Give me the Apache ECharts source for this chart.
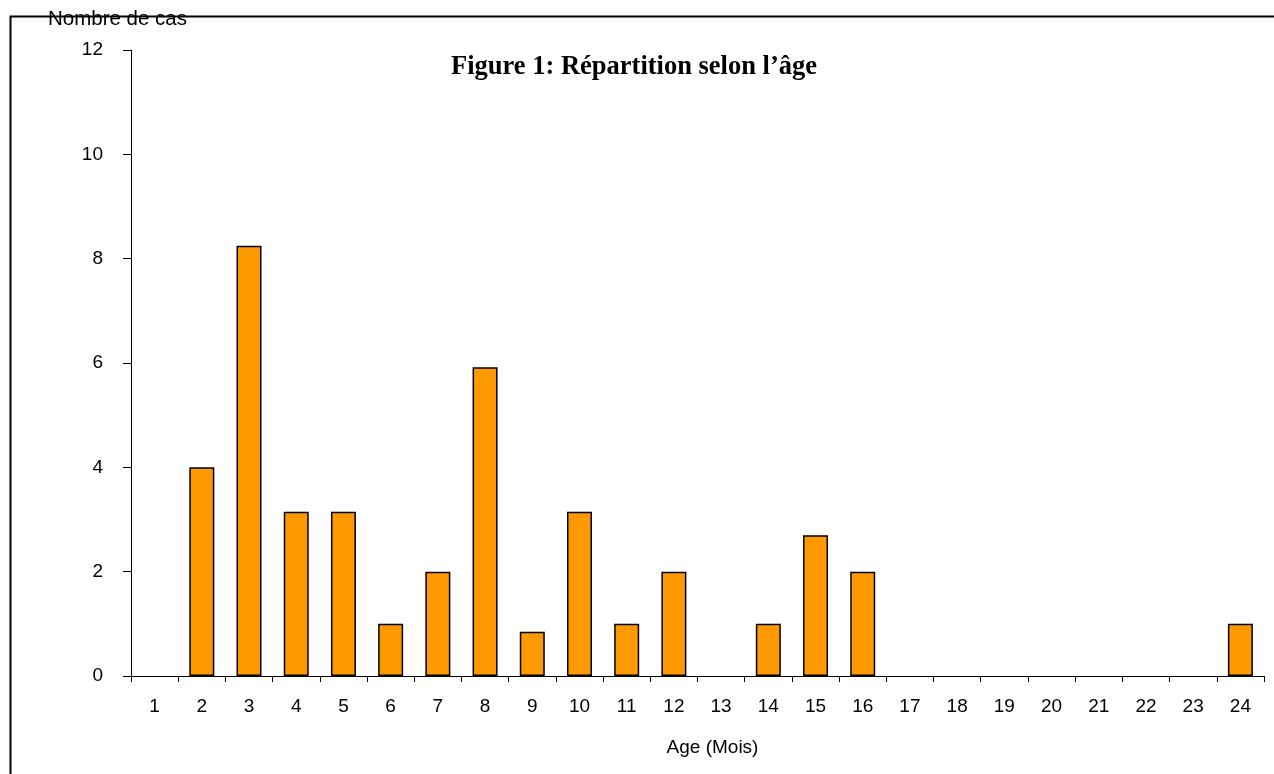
<!DOCTYPE html>
<html>
<head>
<meta charset="utf-8">
<script src="https://cdn.jsdelivr.net/npm/echarts@6/dist/echarts.min.js"></script>
<style>html,body{margin:0;padding:0;background:#fff}#c{width:1274px;height:774px}</style>
</head>
<body>
<div id="c"></div>
<script>
const categories = ['1','2','3','4','5','6','7','8','9','10','11','12','13','14','15','16','17','18','19','20','21','22','23','24'];
const cases = [0, 4, 8.25, 3.15, 3.15, 1, 2, 5.92, 0.85, 3.15, 1, 2, 0, 1, 2.7, 2, 0, 0, 0, 0, 0, 0, 0, 1];
const yTicks = {min: 0, max: 12, interval: 2};
const titleText = 'Figure 1: Répartition selon l\u2019âge';
const yName = 'Nombre de cas';
const xName = 'Age (Mois)';

const chart = echarts.init(document.getElementById('c'), null, {renderer: 'canvas'});
const sans = 'Liberation Sans, Arial, sans-serif';
const barData = cases.map(v => v === 0 ? {value: v, itemStyle: {borderWidth: 0}} : v);
chart.setOption({
  animation: false,
  backgroundColor: '#fff',
  title: {
    text: titleText,
    left: 446, top: 49,
    textStyle: {fontFamily: 'Liberation Serif, Times New Roman, serif', fontWeight: 'bold', fontSize: 26.5, color: '#000'}
  },
  graphic: [
    {type: 'rect', left: 8, top: 14, z: 0, silent: true,
     shape: {width: 1400, height: 900},
     style: {fill: 'none', stroke: '#000', lineWidth: 2}},
    {type: 'text', left: 48, top: 9, z: 10,
     style: {text: yName, font: '20.5px ' + sans, fill: '#000'}}
  ],
  grid: {left: 131, right: 10, top: 50, bottom: 98, containLabel: false},
  xAxis: {
    type: 'category',
    data: categories,
    name: xName,
    nameLocation: 'middle',
    nameGap: 62,
    nameTextStyle: {fontFamily: sans, fontSize: 19, color: '#000', padding: [0, 0, 0, 30]},
    axisLine: {lineStyle: {color: '#000', width: 1}},
    axisTick: {show: true, length: 6, lineStyle: {color: '#000'}},
    axisLabel: {fontFamily: sans, fontSize: 19, color: '#000', margin: 21, interval: 0},
    splitLine: {show: false}
  },
  yAxis: {
    type: 'value',
    min: yTicks.min, max: yTicks.max, interval: yTicks.interval,
    axisLine: {show: true, lineStyle: {color: '#000', width: 1}},
    axisTick: {show: true, length: 8, lineStyle: {color: '#000'}},
    axisLabel: {fontFamily: sans, fontSize: 19, color: '#000', margin: 28},
    splitLine: {show: false}
  },
  series: [{
    type: 'bar',
    data: barData,
    barWidth: 25,
    itemStyle: {color: '#FF9900', borderColor: '#000', borderWidth: 1.5}
  }]
});
</script>
</body>
</html>
